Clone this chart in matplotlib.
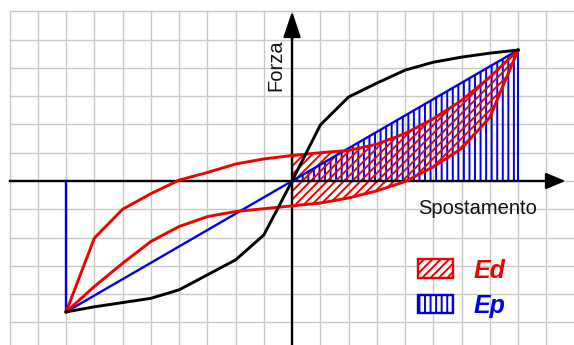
import matplotlib
matplotlib.use("Agg")
import matplotlib.pyplot as plt
import numpy as np
from matplotlib.patches import Rectangle

# displacement grid positions (one grid cell = one unit)
xs = [-8, -7, -6, -5, -4, -3, -2, -1, 0, 1, 2, 3, 4, 5, 6, 7, 8]

# black S-shaped curve
black_y = [-4.63, -4.45, -4.3, -4.15, -3.85, -3.32, -2.79, -1.91, 0.0,
           1.98, 2.97, 3.46, 3.92, 4.2, 4.38, 4.52, 4.63]

# red hysteresis loop: upper (loading) and lower (unloading) branches
upper_y = [-4.63, -2.02, -1.0, -0.45, 0.03, 0.3, 0.6, 0.78, 0.9,
           1.0, 1.08, 1.3, 1.68, 2.2, 2.85, 3.67, 4.63]
lower_y = [-4.63, -3.73, -2.91, -2.14, -1.61, -1.26, -1.08, -0.98, -0.88,
           -0.78, -0.6, -0.35, -0.02, 0.5, 1.15, 2.25, 4.63]

# blue secant line between the two peaks
peak_x = [-8, 8]
peak_y = [-4.63, 4.63]

legend_labels = ["Ed", "Ep"]
x_label = "Spostamento"
y_label = "Forza"

RED = "#f00000"
BLUE = "#0000e6"

plt.rcParams["hatch.linewidth"] = 1.4
plt.rcParams["font.family"] = ["Liberation Sans", "DejaVu Sans"]

fig = plt.figure(figsize=(5.74, 3.45), dpi=100)
ax = fig.add_axes([0, 0, 1, 1])
ax.set_xlim(-10.34, 9.98)
ax.set_ylim(-5.80, 6.40)
ax.axis("off")

# squared paper
for gx in range(-10, 11):
    ax.plot([gx, gx], [-6, 6], color="#c8c8c8", lw=1.0, zorder=0)
for gy in range(-5, 7):
    ax.plot([-10, 10.5], [gy, gy], color="#c8c8c8", lw=1.0, zorder=0)

xs_a = np.array(xs)
up = np.array(upper_y)
lo = np.array(lower_y)
pos = xs_a >= 0

# Ep: triangle under the secant line
ax.fill([0, peak_x[1], peak_x[1]], [0, 0, peak_y[1]], facecolor="none",
        edgecolor=BLUE, hatch="|||", lw=0, zorder=2)
# Ed: half of the loop area
ax.fill(np.concatenate([xs_a[pos], xs_a[pos][::-1]]),
        np.concatenate([up[pos], lo[pos][::-1]]),
        facecolor="none", edgecolor=RED, hatch="////", lw=0, zorder=3)

# axes with arrows
ax.plot([-10, 9.2], [0, 0], color="black", lw=1.7, zorder=4)
ax.annotate("", xy=(9.68, 0), xytext=(9.0, 0),
            arrowprops=dict(arrowstyle="-|>,head_length=0.6,head_width=0.25",
                            mutation_scale=20, color="black", lw=1.6,
                            shrinkA=0, shrinkB=0), zorder=4)
ax.plot([0, 0], [-6, 5.3], color="black", lw=1.7, zorder=4)
ax.annotate("", xy=(0, 6.0), xytext=(0, 5.0),
            arrowprops=dict(arrowstyle="-|>,head_length=0.8,head_width=0.27",
                            mutation_scale=20, color="black", lw=1.6,
                            shrinkA=0, shrinkB=0), zorder=4)

# curves
ax.plot(peak_x, peak_y, color=BLUE, lw=1.7, zorder=5)
ax.plot([peak_x[0], peak_x[0]], [0, peak_y[0]], color=BLUE, lw=1.7, zorder=5)
ax.plot([peak_x[1], peak_x[1]], [0, peak_y[1]], color=BLUE, lw=1.4, zorder=5)
ax.plot(xs, upper_y, color=RED, lw=2.1, zorder=6)
ax.plot(xs, lower_y, color=RED, lw=2.1, zorder=6)
ax.plot(xs, black_y, color="black", lw=2.1, zorder=7)

# labels
ax.text(4.46, -1.17, x_label, fontsize=14.5, va="baseline", ha="left",
        color="#111111", zorder=8)
ax.text(-0.39, 3.18, y_label, fontsize=14.5, rotation=90,
        rotation_mode="anchor", ha="left", va="baseline", color="#111111",
        zorder=8)

# legend
ax.add_patch(Rectangle((4.46, -3.43), 1.24, 0.67, facecolor="white",
                       edgecolor=RED, hatch="////", lw=1.7, zorder=8))
ax.add_patch(Rectangle((4.46, -4.66), 1.24, 0.63, facecolor="white",
                       edgecolor=BLUE, hatch="|||", lw=1.7, zorder=8))
ax.text(6.41, -3.43, legend_labels[0], color=RED, fontsize=18,
        fontweight="bold", fontstyle="italic", va="baseline", zorder=8)
ax.text(6.41, -4.66, legend_labels[1], color=BLUE, fontsize=18,
        fontweight="bold", fontstyle="italic", va="baseline", zorder=8)

fig.savefig("out.png", dpi=100)
